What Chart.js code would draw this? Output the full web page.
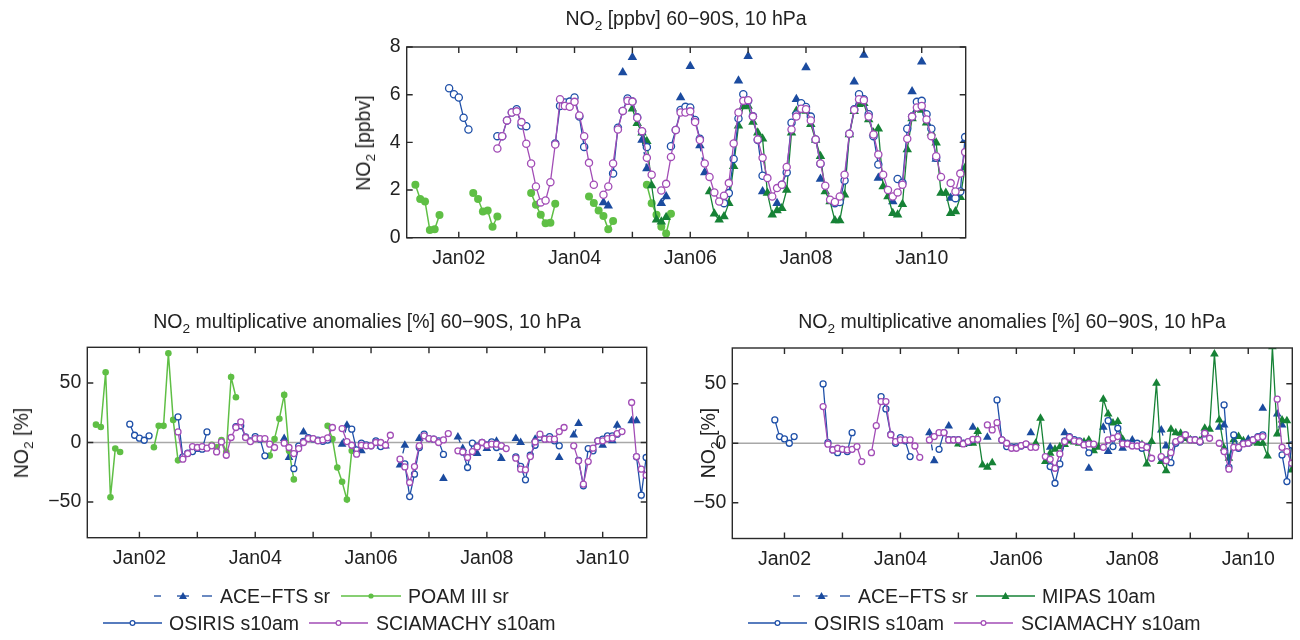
<!DOCTYPE html>
<html>
<head>
<meta charset="utf-8">
<script src="https://cdn.jsdelivr.net/npm/chart.js@4.4.0/dist/chart.umd.min.js"></script>
<style>
  body { margin: 0; width: 1300px; height: 640px; background: #fff; position: relative; overflow: hidden;
         font-family: "Liberation Sans", Arial, sans-serif; color: #222; }
  canvas { position: absolute; left: 0; top: 0; }
  .title { position: absolute; font-size: 19.5px; line-height: 20px; white-space: nowrap; transform: translateX(-50%); }
  .ylab { position: absolute; font-size: 19.5px; line-height: 20px; white-space: nowrap; transform: translate(-50%, -50%) rotate(-90deg); }
  .leg { position: absolute; font-size: 19.5px; line-height: 22px; white-space: nowrap; }
  sub { font-size: 70%; vertical-align: -0.35em; line-height: 0; }
  #legsvg { position: absolute; left: 0; top: 0; }
</style>
</head>
<body>
<canvas id="top" width="1300" height="640"></canvas>
<canvas id="left" width="1300" height="640"></canvas>
<canvas id="right" width="1300" height="640"></canvas>

<div class="title" style="left:686px;top:8px">NO<sub>2</sub> [ppbv] 60−90S, 10 hPa</div>
<div class="title" style="left:367px;top:311px">NO<sub>2</sub> multiplicative anomalies [%] 60−90S, 10 hPa</div>
<div class="title" style="left:1012px;top:311px">NO<sub>2</sub> multiplicative anomalies [%] 60−90S, 10 hPa</div>
<div class="ylab" style="left:363px;top:143px">NO<sub>2</sub> [ppbv]</div>
<div class="ylab" style="left:21px;top:443px">NO<sub>2</sub> [%]</div>
<div class="ylab" style="left:708px;top:443px">NO<sub>2</sub> [%]</div>

<svg id="legsvg" width="1300" height="640"></svg>

<script>
// ---- axes ----
const years = [2002, 2003, 2004, 2005, 2006, 2007, 2008, 2009, 2010];
const xMin = 2001.1, xMax = 2010.76;
const ppbvTicks = [0, 2, 4, 6, 8];
const pctTicks = [-50, 0, 50];

// months are counted from Jan 2001 (0 = Jan 2001)
function span(a, b) { const r = []; for (let m = a; m <= b; m++) r.push(m); return r; }

// ---- POAM III sr ----
const poamMonths = [...span(3, 8), ...span(15, 20), ...span(27, 32), ...span(39, 44), ...span(51, 56)];
const poamNO2 = [2.22, 1.62, 1.52, 0.32, 0.35, 0.95,
  1.87, 1.62, 1.10, 1.14, 0.46, 0.89,
  1.87, 1.38, 0.96, 0.61, 0.63, 1.42,
  1.73, 1.46, 1.14, 0.91, 0.35, 0.70,
  2.22, 1.45, 0.96, 0.46, 0.18, 1.00];
const poamAnom = [15, 13, 59, -46, -5, -8,
  -4, 14, 14, 75, 19, -15,
  -2, -4, 2, -8, 55, 38,
  -11, 3, 20, 40, -7, -31,
  14, 3, -21, -33, -48, -7];

// ---- OSIRIS s10am ----
const osirisMonths = [...span(10, 14), ...span(20, 26), ...span(32, 38), ...span(44, 51), ...span(56, 62),
  ...span(67, 75), ...span(79, 87), ...span(90, 99), ...span(103, 111), ...span(115, 117)];
const osirisNO2 = [6.27, 6.02, 5.88, 5.03, 4.54,
  4.26, 4.26, 4.92, 5.25, 5.39, 4.71, 4.68,
  3.95, 5.53, 5.67, 5.71, 5.88, 5.08, 3.81,
  2.69, 4.61, 5.32, 5.84, 5.71, 5.05, 4.45, 3.80,
  3.84, 4.52, 5.36, 5.49, 5.46, 4.94, 4.15,
  1.45, 1.87, 3.30, 5.00, 6.02, 5.74, 5.10, 4.10, 2.60,
  2.22, 2.74, 4.82, 5.17, 5.64, 5.48, 5.08, 4.12, 3.10,
  1.45, 1.50, 2.40, 4.36, 5.39, 6.02, 5.81, 5.18, 4.26, 3.07,
  2.46, 2.30, 4.57, 5.08, 5.70, 5.74, 5.18, 4.57, 3.35,
  1.66, 1.94, 4.22];
const osirisAnomL = [15.4, 6.1, 3.6, 1.9, 5.6,
  21.5, -12, -9, -7.6, -5, -5.6, 8.9,
  13.4, 14, 4.7, 1.4, 5, 2.8, -11.2,
  -22, -3, 1, 4, 3, 2, 1, 2,
  11.2, -6.2, -0.6, -2, -2.8, 1.4, -3.4,
  -18, -45.4, -26.6, -4.2, 7, 3.3, 2.8, 1.4, -10,
  -8, -21, -0.6, -3, 0, -2, 0.5, -4.2, -3,
  -12, -20, -31.4, -10.7, -2.3, 4.2, 3, 5, 1.4, -2.8,
  -15, -36.4, -5.1, -7, 1.4, 2.8, 5.6, 5.6, 7,
  -12, -44.3, -12.6];
const osirisAnomR = [19.6, 5.6, 3.6, 0, 5.6,
  49.8, 0.5, -5.6, -7.9, -5.1, -7, 8.9,
  39.2, 28.8, 7.5, 0, 4.7, 2, -11.2,
  -5.1, 9, 3, 3, 3, 0, 1, 3,
  36.4, 2.8, -2.8, -3, -3, -2.3, -1,
  -19.6, -33.6, -17.4, 2, 5.6, 3, 2, -1, -8,
  19, -2.8, 12.6, 0, 0, -1, 0, -4.2, -3,
  -12, -14, -16.3, 0, 3, 7, 3, 3, 1, 8,
  32.2, -20, 7, -4.2, 0, 0, 3, 5.6, 7,
  -9.8, -32.2, -1.4];

// ---- SCIAMACHY s10am (months 20..117, null = no data) ----
const sciaMonths = span(20, 117);
const sciaNO2 = [3.74, 4.26, 4.92, 5.25, 5.30, 4.85, 3.94, 3.11, 2.15, 1.48,
  1.56, 2.33, 3.91, 5.81, 5.53, 5.49, 5.70, 5.13, 4.26, 3.14,
  2.22, null, 1.80, 2.15, 3.11, 4.54, 5.32, 5.74, 5.71, 5.03,
  4.47, 3.35, 2.64, null, 1.98, 2.26, 3.39, 4.52, 5.25, 5.25,
  5.30, 4.85, 4.10, 3.11, 2.55, 1.90, 1.52, 1.76, 2.29, 3.95,
  5.25, 5.74, 5.77, 5.08, 4.12, 3.35, 2.50, 1.73, 2.08, 2.22,
  2.97, 4.54, 5.08, 5.41, 5.39, 4.92, 4.12, 3.11, 2.18, 1.59,
  1.50, 1.73, 2.64, 4.36, 5.36, 5.81, 5.77, 5.08, 4.33, 3.49,
  2.64, 2.00, 1.73, 1.90, 2.22, 4.15, 5.08, 5.46, 5.53, 4.96,
  4.26, 3.42, 2.55, null, 2.29, 1.94, 2.69, 3.59];
const sciaAnomL = [8.9, -14, -9.3, -3.4, -4.2, -3.4, -4.8, -2.8, -7.9, 0.5,
  -10.7, 4.2, 12.6, 17.3, 4.2, 0.8, 3.3, 3.3, 3.3, -1.4,
  -4.2, null, -0.6, -4.2, -9.3, -5.1, 0, 3.3, 3.3, 1.4,
  2.2, 3.9, 12.6, null, 11.7, 0.8, -2.3, -9.8, -2.3, -2.8,
  -2.8, 0, 0, -2.3, 6.1, null, -14, -20.5, -33.6, -20.2,
  -2.8, 5.6, 3.3, 2.8, 0, 2.2, 7.5, null, -7, -7.9,
  -12.6, -7.6, -3.7, 0, -2.3, -1.4, -1.4, -2.8, -5.1, null,
  -13.2, -22.4, -23, -11.8, 0.5, 7, 2.8, 2.8, 2.8, 9.2,
  12.6, null, -2.8, -15.4, -35, -16, -4.8, 1.4, 1.4, 3.3,
  3.6, 7.5, 9.2, null, 33.6, -11.8, -22.4, -27.5];
const sciaAnomR = [30.8, -0.8, -5.6, -4.2, -5.1, -5.6, -5.1, -2.8, -15.4, null,
  -7.9, 14.8, 35, 35, 7, 1.4, 2.8, 2.8, 2.8, -2.3,
  -11.8, null, 2.8, 5.6, 8.9, 8.9, 2.8, 2.8, 2.8, -0.6,
  1.4, 3.3, 3.3, null, 15.4, 11.2, 17.3, 2.8, 0, -4.2,
  -4.2, -2, -0.6, -3.4, -3.4, null, -11.2, -13.5, -21, -9,
  1.4, 5, 2, 1.4, -1.4, -0.6, -0.8, null, -3.4, 2.8,
  4.2, 5.6, -0.6, -0.6, -2.3, -2.3, -1.4, -3.4, -12.6, null,
  -11.2, -14.6, -7.9, 1.4, 3.3, 7, 2.8, 2.8, 1.4, 8.4,
  4.2, null, 0, -7, -21.8, -3.4, -3.4, -0.6, 0, 2.8,
  5, 5.6, null, null, 37, -3.4, -7, -16.8];

// ---- MIPAS 10am ----
const mipasMonths = [...span(48, 55), ...span(64, 117)];
const mipasNO2 = [5.41, 4.80, 4.40, 4.05, 2.19, 0.75, 0.67, 0.86,
  1.94, 1.00, 0.75, 0.89, 1.45, 3.00, 4.70, 5.50, 5.53, 4.85,
  4.40, 4.15, 1.87, 0.96, 1.14, 1.24, 2.00, 4.40, 5.31, 5.36,
  5.31, 4.76, 4.10, 3.42, 1.94, 1.52, 0.72, 0.72, 1.80, 4.33,
  5.30, 5.60, 5.64, 4.96, 4.40, 4.57, 2.15, 1.73, 1.03, 0.96,
  1.40, 3.70, 5.00, 5.39, 5.36, 4.82, 4.40, 3.98, 1.87, 1.87,
  1.03, 1.10, 1.70, 2.93];
const mipasAnom = [-0.6, -1, 0, 0, 9.8, -18.2, -20.2, -16.3,
  0, 21, -15.4, -8.4, -5.1, -3, -1, 2, 1, 0,
  1, 2.8, -6.2, -3.4, 37, 24.6, 17, 18.2, 3.3, -1,
  -1, -2, -1, -17.4, 1.4, 50.4, -15.4, -23, 11.8, 8.9,
  8.4, 4, 3, 2, 2, 12.6, 11.7, 75, 19.6, -4.2,
  -12.6, 3, 5.6, 2, 0, 1, 0, 0, -10.7, 81,
  7.8, 19.6, 19, -22.4];

// ---- ACE-FTS sr ----
const aceMonths = [42, 43, 46, 48, 50, 51, 54, 55, 58, 60, 62, 63, 70, 72, 75, 78, 82, 84, 87, 94, 96, 99, 102, 106, 108, 111, 114, 117];
const aceNO2 = [1.48, 1.34, 6.93, 7.57, 4.10, 2.90, 1.45, 1.73, 5.88, 7.19, 3.87, 2.74, 6.58, 7.61, 1.94, 1.45, 5.81, 7.14, 2.46, 6.54, 7.66, 2.50, 1.52, 6.13, 7.38, 3.30, 1.67, 4.12];
const aceMonthsL = [42, 43, 46, 54, 55, 58, 62, 63, 66, 67, 70, 75, 78, 79, 82, 84, 86, 87, 90, 91, 94, 99, 102, 103, 108, 110, 111, 114, 115];
const aceAnomL = [3.3, -12.6, 8.9, -1.4, 14.5, -7, -3, -3, -19, -2.3, 3.3, -30.3, 4.7, -5.1, -9.3, -5.1, 1, -13.5, 3.3, 0, 2.8, -12.6, 6.4, 16, -2.3, 1.4, 14.5, 18.2, 18.2];
const aceMonthsR = [42, 43, 46, 51, 54, 63, 67, 70, 75, 78, 79, 82, 84, 90, 91, 99, 102, 103, 108, 111, 114, 115];
const aceAnomR = [8.9, -14.6, 14.5, 13.4, 5, 8.9, -3.4, 8.9, -21, 13.4, -7, -4.2, 2.8, 11.2, -2.3, 10, 13.4, 15.4, 3.3, 29.4, 24.6, 15.4];

// ---- colours ----
const C = { ace: '#1b4b9f', poam: '#5fbf45', osiris: '#1f50a8', scia: '#a24db6', mipas: '#168236' };
const FONT = { family: '"Liberation Sans", Arial, sans-serif', size: 19.5 };

function toYear(m) { return 2001 + m / 12; }

// build {x,y} points, breaking the line where months are missing
function points(months, values) {
  const out = [];
  months.forEach((m, i) => {
    if (i > 0 && m - months[i - 1] > 1) out.push({ x: toYear(m - 0.5), y: null });
    out.push({ x: toYear(m), y: values[i] });
  });
  return out;
}

function openCircle(label, color, months, values, r, order) {
  return { label, data: points(months, values), borderColor: color, borderWidth: 1.3,
    pointStyle: 'circle', pointRadius: r, pointBorderWidth: 1.3, pointBorderColor: color,
    pointBackgroundColor: '#fff', spanGaps: false, order };
}
function filledDot(label, color, months, values, r, order) {
  return { label, data: points(months, values), borderColor: color, borderWidth: 1.5,
    pointStyle: 'circle', pointRadius: r, pointBorderWidth: 0, pointBackgroundColor: color,
    spanGaps: false, order };
}
function triangles(label, color, months, values, r, dashed, order) {
  return { label, data: points(months, values), borderColor: color, borderWidth: 1.3,
    borderDash: dashed ? [6, 6] : [], pointStyle: 'triangle', pointRadius: r, pointBorderWidth: 0,
    pointBackgroundColor: color, spanGaps: false, order };
}

// draws the box, the inward tick marks and (optionally) the zero line
const framePlugin = {
  id: 'frame',
  beforeDatasetsDraw(chart, args, opts) {
    if (!opts.zero) return;
    const { ctx, chartArea: a, scales: { y } } = chart;
    const py = y.getPixelForValue(0);
    ctx.save();
    ctx.strokeStyle = '#a8a8a8';
    ctx.lineWidth = 1.6;
    ctx.beginPath(); ctx.moveTo(a.left, py); ctx.lineTo(a.right, py); ctx.stroke();
    ctx.restore();
  },
  afterDatasetsDraw(chart) {
    const { ctx, chartArea: a, scales: { x, y } } = chart;
    ctx.save();
    ctx.strokeStyle = '#2a2a2a';
    ctx.lineWidth = 1.4;
    ctx.strokeRect(a.left, a.top, a.right - a.left, a.bottom - a.top);
    ctx.beginPath();
    x.ticks.forEach(t => {
      const px = x.getPixelForValue(t.value);
      ctx.moveTo(px, a.bottom); ctx.lineTo(px, a.bottom - 6);
      ctx.moveTo(px, a.top); ctx.lineTo(px, a.top + 6);
    });
    y.ticks.forEach(t => {
      const py = y.getPixelForValue(t.value);
      ctx.moveTo(a.left, py); ctx.lineTo(a.left + 6, py);
      ctx.moveTo(a.right, py); ctx.lineTo(a.right - 6, py);
    });
    ctx.stroke();
    ctx.restore();
  }
};

function makeChart(id, box, yMin, yMax, yTicks, datasets, zero) {
  const yW = 60, xH = 40;
  return new Chart(document.getElementById(id), {
    type: 'line',
    data: { datasets },
    plugins: [framePlugin],
    options: {
      responsive: false,
      animation: false,
      events: [],
      layout: { padding: { left: box.l - yW, top: box.t, right: 1300 - box.r, bottom: 640 - box.b - xH } },
      plugins: { legend: { display: false }, tooltip: { enabled: false }, frame: { zero } },
      scales: {
        x: {
          type: 'linear', min: xMin, max: xMax,
          afterBuildTicks: s => { s.ticks = years.map(v => ({ value: v })); },
          afterFit: s => { s.height = xH; },
          grid: { display: false, drawTicks: false },
          border: { display: false },
          ticks: { autoSkip: false, maxRotation: 0, padding: 9, font: FONT, color: '#222',
            callback: v => (v % 2 === 0 ? 'Jan' + String(v).slice(2) : '') }
        },
        y: {
          type: 'linear', min: yMin, max: yMax,
          afterBuildTicks: s => { s.ticks = yTicks.map(v => ({ value: v })); },
          afterFit: s => { s.width = yW; },
          grid: { display: false, drawTicks: false },
          border: { display: false },
          ticks: { padding: 6, font: FONT, color: '#222',
            callback: v => (v < 0 ? '\u2212' + (-v) : String(v)) }
        }
      }
    }
  });
}

makeChart('top', { l: 406.7, r: 965.7, t: 47, b: 237.7 }, 0, 8, ppbvTicks, [
  openCircle('SCIAMACHY s10am', C.scia, sciaMonths, sciaNO2, 3.6, 0),
  openCircle('OSIRIS s10am', C.osiris, osirisMonths, osirisNO2, 3.6, 1),
  triangles('MIPAS 10am', C.mipas, mipasMonths, mipasNO2, 5.5, false, 2),
  filledDot('POAM III sr', C.poam, poamMonths, poamNO2, 4, 3),
  triangles('ACE-FTS sr', C.ace, aceMonths, aceNO2, 5.5, true, 4)
], false);

makeChart('left', { l: 87.3, r: 646.7, t: 347.3, b: 537.7 }, -80, 80, pctTicks, [
  openCircle('SCIAMACHY s10am', C.scia, sciaMonths, sciaAnomL, 3, 0),
  openCircle('OSIRIS s10am', C.osiris, osirisMonths, osirisAnomL, 3, 1),
  filledDot('POAM III sr', C.poam, poamMonths, poamAnom, 3.3, 2),
  triangles('ACE-FTS sr', C.ace, aceMonthsL, aceAnomL, 5, true, 3)
], true);

makeChart('right', { l: 732.3, r: 1292.3, t: 348, b: 538.5 }, -80, 80, pctTicks, [
  openCircle('SCIAMACHY s10am', C.scia, sciaMonths, sciaAnomR, 3, 0),
  openCircle('OSIRIS s10am', C.osiris, osirisMonths, osirisAnomR, 3, 1),
  triangles('MIPAS 10am', C.mipas, mipasMonths, mipasAnom, 5, false, 2),
  triangles('ACE-FTS sr', C.ace, aceMonthsR, aceAnomR, 5, true, 3)
], true);

// ---- legends (samples in svg, labels as text) ----
const svg = document.getElementById('legsvg');
const NS = 'http://www.w3.org/2000/svg';
function el(tag, attrs) {
  const e = document.createElementNS(NS, tag);
  Object.entries(attrs).forEach(([k, v]) => e.setAttribute(k, v));
  svg.appendChild(e);
}
function segment(x0, x1, y, color) { el('line', { x1: x0, y1: y, x2: x1, y2: y, stroke: color, 'stroke-width': 1.3 }); }
function marker(kind, x, y, color) {
  if (kind === 'tri') el('polygon', { points: `${x - 4},${y + 3} ${x + 4},${y + 3} ${x},${y - 4}`, fill: color });
  else if (kind === 'dot') el('circle', { cx: x, cy: y, r: 2.6, fill: color });
  else el('circle', { cx: x, cy: y, r: 2.4, fill: '#fff', stroke: color, 'stroke-width': 1.2 });
}
function legendItem(x0, x1, y, kind, color, dashed, textX, text) {
  const mid = (x0 + x1) / 2;
  if (dashed) {
    segment(x0, x0 + 7, y, color);
    segment(mid - 6, mid + 6, y, color);
    segment(x1 - 10, x1, y, color);
  } else {
    segment(x0, x1, y, color);
  }
  marker(kind, mid, y, color);
  const d = document.createElement('div');
  d.className = 'leg';
  d.style.left = textX + 'px';
  d.style.top = (y - 11) + 'px';
  d.textContent = text;
  document.body.appendChild(d);
}

legendItem(154, 212, 596, 'tri', C.ace, true, 220, 'ACE\u2212FTS sr');
legendItem(341, 401, 596, 'dot', C.poam, false, 408, 'POAM III sr');
legendItem(103, 162, 623, 'open', C.osiris, false, 169, 'OSIRIS s10am');
legendItem(309, 368, 623, 'open', C.scia, false, 376, 'SCIAMACHY s10am');

legendItem(793, 850, 596, 'tri', C.ace, true, 858, 'ACE\u2212FTS sr');
legendItem(976, 1035, 596, 'tri', C.mipas, false, 1042, 'MIPAS 10am');
legendItem(748, 807, 623, 'open', C.osiris, false, 814, 'OSIRIS s10am');
legendItem(954, 1013, 623, 'open', C.scia, false, 1021, 'SCIAMACHY s10am');
</script>
</body>
</html>
